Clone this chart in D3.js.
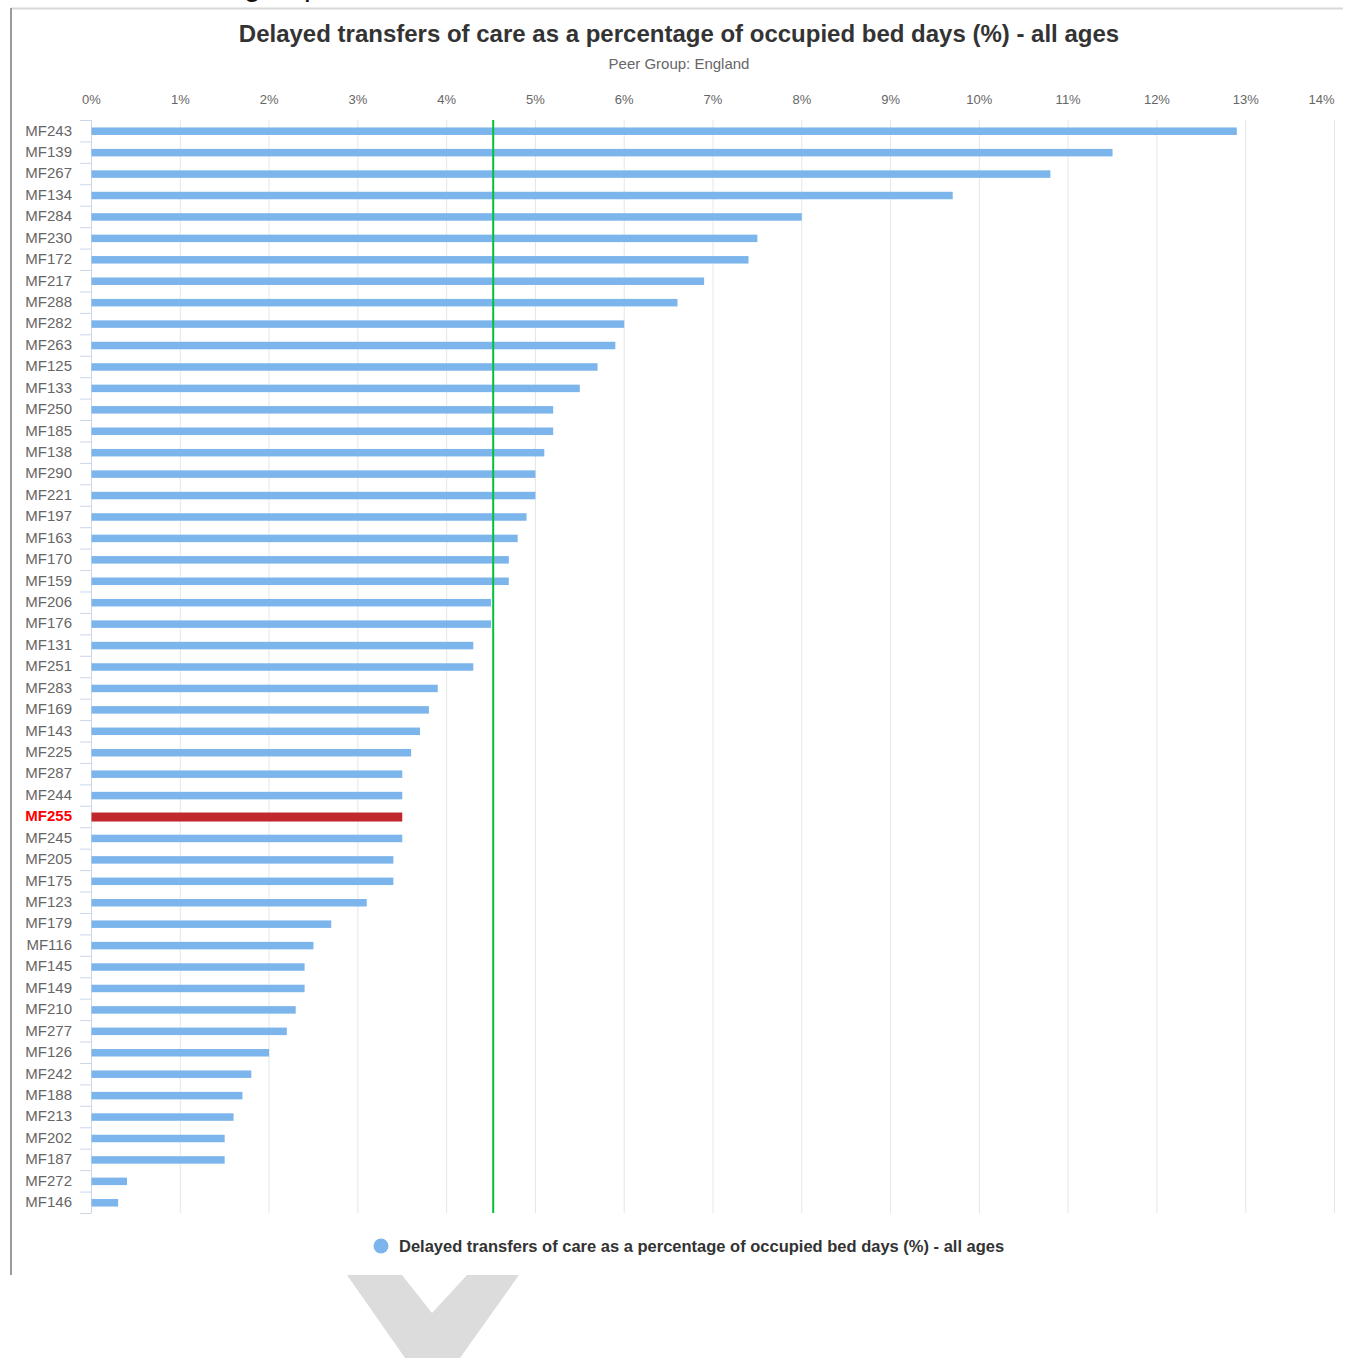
<!DOCTYPE html>
<html>
<head>
<meta charset="utf-8">
<script src="https://cdn.jsdelivr.net/npm/d3@7"></script>
<style>
  html, body { margin: 0; padding: 0; background: #fff; }
  svg { display: block; font-family: "Liberation Sans", Arial, Helvetica, sans-serif; }
</style>
</head>
<body>
<svg id="chart" width="1346" height="1358"></svg>
<script>
// Delayed transfers of care (% of occupied bed days), all ages, by organisation
const categories = [
  "MF243","MF139","MF267","MF134","MF284","MF230","MF172","MF217","MF288","MF282",
  "MF263","MF125","MF133","MF250","MF185","MF138","MF290","MF221","MF197","MF163",
  "MF170","MF159","MF206","MF176","MF131","MF251","MF283","MF169","MF143","MF225",
  "MF287","MF244","MF255","MF245","MF205","MF175","MF123","MF179","MF116","MF145",
  "MF149","MF210","MF277","MF126","MF242","MF188","MF213","MF202","MF187","MF272",
  "MF146"
];
const values = [
  12.9, 11.5, 10.8, 9.7, 8.0, 7.5, 7.4, 6.9, 6.6, 6.0,
  5.9, 5.7, 5.5, 5.2, 5.2, 5.1, 5.0, 5.0, 4.9, 4.8,
  4.7, 4.7, 4.5, 4.5, 4.3, 4.3, 3.9, 3.8, 3.7, 3.6,
  3.5, 3.5, 3.5, 3.5, 3.4, 3.4, 3.1, 2.7, 2.5, 2.4,
  2.4, 2.3, 2.2, 2.0, 1.8, 1.7, 1.6, 1.5, 1.5, 0.4,
  0.3
];
const highlighted = "MF255";
const peerAverage = 4.53;
const xTicks = [0,1,2,3,4,5,6,7,8,9,10,11,12,13,14];

const titleText = "Delayed transfers of care as a percentage of occupied bed days (%) - all ages";
const subtitleText = "Peer Group: England";
const legendText = "Delayed transfers of care as a percentage of occupied bed days (%) - all ages";

const svg = d3.select("#chart");

// page frame and the heading above the chart, scrolled mostly out of view
svg.append("text").attr("x", 244).attr("y", -4)
  .attr("font-size", 30).attr("fill", "#111").text("group");
svg.append("line").attr("x1", 11).attr("x2", 1343).attr("y1", 8.5).attr("y2", 8.5)
  .attr("stroke", "#d8d8d8").attr("stroke-width", 2);
svg.append("line").attr("x1", 11).attr("x2", 11).attr("y1", 8).attr("y2", 1275)
  .attr("stroke", "#9a9a9a").attr("stroke-width", 2);

// scroll chevron below the chart
svg.append("polygon")
  .attr("points", "347,1275 402,1275 432,1313 467,1275 519,1275 460,1358 405,1358")
  .attr("fill", "#dcdcdc");

const plot = { left: 91, right: 1334, top: 120, bottom: 1213 };

const x = d3.scaleLinear().domain([0, 14]).range([plot.left, plot.right]);
const y = d3.scaleBand().domain(categories).range([plot.top, plot.bottom]).paddingInner(0).paddingOuter(0);

// titles
svg.append("text").attr("x", 679).attr("y", 42).attr("text-anchor", "middle")
  .attr("font-size", 24).attr("font-weight", "bold").attr("fill", "#333").text(titleText);
svg.append("text").attr("x", 679).attr("y", 69).attr("text-anchor", "middle")
  .attr("font-size", 15).attr("fill", "#666").text(subtitleText);

// vertical grid lines
svg.append("g").selectAll("line").data(xTicks).join("line")
  .attr("x1", d => x(d) + 0.5).attr("x2", d => x(d) + 0.5)
  .attr("y1", plot.top).attr("y2", plot.bottom)
  .attr("stroke", "#e6e6e6").attr("stroke-width", 1);

// top value axis (labels only); the last label is pulled inside the plot edge
const xAxis = svg.append("g").attr("transform", `translate(0,${plot.top - 16})`)
  .call(d3.axisTop(x).tickValues(xTicks).tickFormat(d => d + "%").tickSize(0).tickPadding(0));
xAxis.select(".domain").remove();
xAxis.selectAll("text").attr("font-size", 13).attr("fill", "#666")
  .attr("font-family", "'Liberation Sans', Arial, sans-serif")
  .attr("text-anchor", d => d === 14 ? "end" : "middle");

// category axis
const yAxis = svg.append("g").attr("transform", `translate(${plot.left},0)`)
  .call(d3.axisLeft(y).tickSize(0).tickPadding(19));
yAxis.select(".domain").attr("stroke", "#ccd6eb");
yAxis.selectAll("text")
  .attr("font-size", 15)
  .attr("font-family", "'Liberation Sans', Arial, sans-serif")
  .attr("fill", d => d === highlighted ? "#ff0000" : "#666")
  .attr("font-weight", d => d === highlighted ? "bold" : "normal");

// tick marks between categories
const boundaries = categories.map(c => y(c)).concat([plot.bottom]);
svg.append("g").selectAll("line").data(boundaries).join("line")
  .attr("x1", plot.left - 11).attr("x2", plot.left)
  .attr("y1", d => d + 0.5).attr("y2", d => d + 0.5)
  .attr("stroke", "#ccd6eb").attr("stroke-width", 1);
svg.append("line").attr("x1", plot.left + 0.5).attr("x2", plot.left + 0.5)
  .attr("y1", plot.top).attr("y2", plot.bottom).attr("stroke", "#ccd6eb");

// bars
const barH = 7.5;
svg.append("g").selectAll("rect").data(categories).join("rect")
  .attr("x", x(0) + 0.5)
  .attr("y", (d) => y(d) + y.bandwidth() / 2 - (d === highlighted ? 4.5 : barH / 2) + 0.5)
  .attr("width", (d, i) => x(values[i]) - x(0))
  .attr("height", d => d === highlighted ? 9 : barH)
  .attr("fill", d => d === highlighted ? "#c0282d" : "#7cb5ec");

// peer average line
svg.append("line")
  .attr("x1", x(peerAverage)).attr("x2", x(peerAverage))
  .attr("y1", plot.top).attr("y2", plot.bottom)
  .attr("stroke", "#00c13a").attr("stroke-width", 2);

// legend
svg.append("circle").attr("cx", 381).attr("cy", 1246).attr("r", 7.5).attr("fill", "#7cb5ec");
svg.append("text").attr("x", 399).attr("y", 1252)
  .attr("font-size", 16.5).attr("font-weight", "bold").attr("fill", "#333").text(legendText);
</script>
</body>
</html>
